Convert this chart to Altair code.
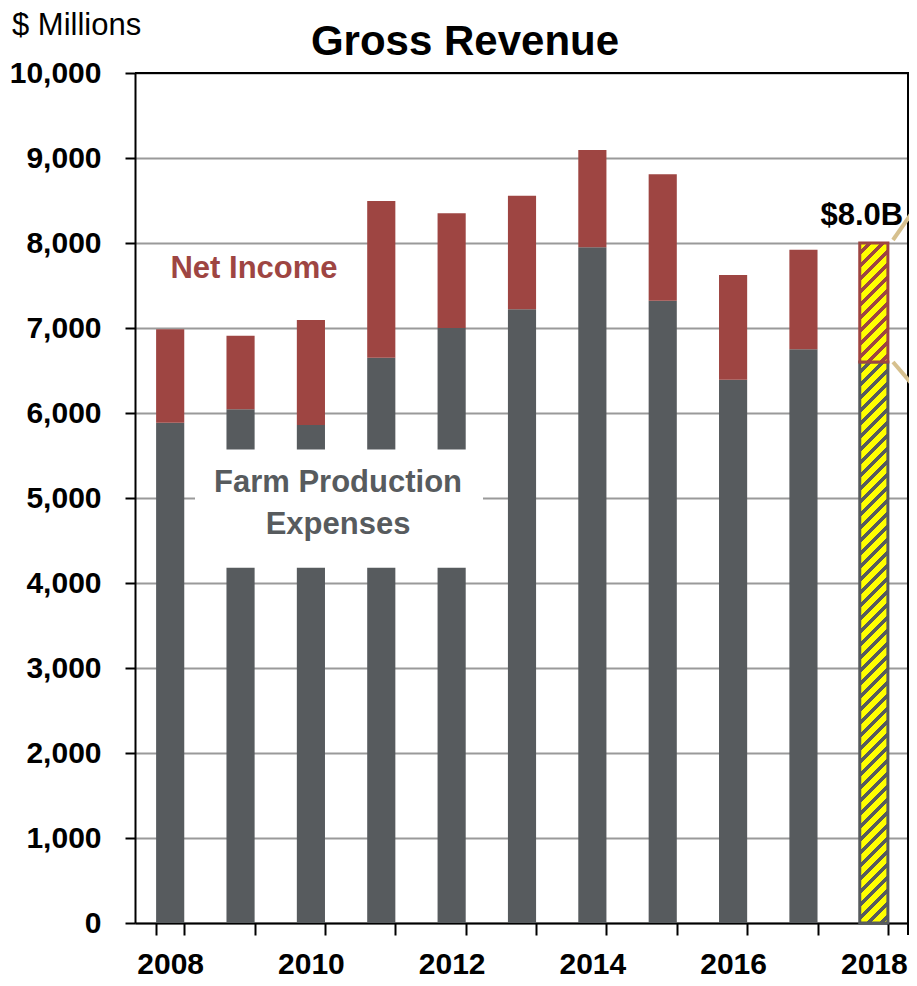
import altair as alt
import pandas as pd

# ---- data ----
years = ["2008", "2009", "2010", "2011", "2012", "2013", "2014", "2015", "2016", "2017", "2018"]
gross_revenue = [6985, 6910, 7095, 8495, 8350, 8555, 9095, 8810, 7625, 7920, 8000]
farm_expenses = [5885, 6045, 5860, 6650, 7000, 7220, 7950, 7320, 6390, 6750, 6600]
forecast_year = "2018"
forecast_label = "$8.0B"
y_ticks = [0, 1000, 2000, 3000, 4000, 5000, 6000, 7000, 8000, 9000, 10000]

RED = "#9E4542"
GRAY = "#575B5E"
YELLOW = "#FFFF00"
TAN = "#D6C08E"
FONT = "Liberation Sans, Arial, sans-serif"

W_PLOT, H_PLOT = 774, 850
PX_PER_UNIT = H_PLOT / 10000.0

df = pd.DataFrame({"year": years, "gross": gross_revenue, "expenses": farm_expenses})
df["zero"] = 0
hist = df[df["year"] != forecast_year]
fc = df[df["year"] == forecast_year]


def stripes(width, height, color, period=13.0, frac=0.6):
    """Diagonal '/' hatch simulated with a hard-stop linear gradient."""
    total = width + height
    c = total / (width ** 2 + height ** 2)
    stops = []
    k = 0
    while k * period < total:
        t0 = k * period / total
        t1 = min(1.0, (k * period + frac * period) / total)
        t2 = min(1.0, (k + 1) * period / total)
        stops += [
            {"offset": t0, "color": YELLOW},
            {"offset": t1, "color": YELLOW},
            {"offset": t1, "color": color},
            {"offset": t2, "color": color},
        ]
        k += 1
    return alt.LinearGradient(gradient="linear", x1=0, y1=0, x2=c * width, y2=c * height, stops=stops)


step = W_PLOT / 11
bar_w = step * 0.4
fc_exp = float(fc["expenses"].iloc[0])
fc_net = float(fc["gross"].iloc[0] - fc["expenses"].iloc[0])

x_enc = alt.X(
    "year:N",
    sort=years,
    scale=alt.Scale(paddingInner=0.6, paddingOuter=0.3),
    axis=alt.Axis(
        title=None,
        tickBand="extent",
        labelExpr="parseInt(datum.label) % 2 == 0 ? datum.label : ''",
        labelAngle=0,
        labelFont=FONT,
        labelFontSize=30,
        labelFontWeight="bold",
        labelColor="black",
        labelPadding=14,
        tickSize=12,
        tickColor="black",
        tickWidth=2,
        domainColor="black",
        domainWidth=2,
        grid=False,
    ),
)
y_scale = alt.Scale(domain=[0, 10000], nice=False)
y_axis = alt.Axis(
    title=None,
    values=y_ticks,
    format=",d",
    labelFont=FONT,
    labelFontSize=30,
    labelFontWeight="bold",
    labelColor="black",
    labelPadding=24,
    tickSize=10,
    tickColor="black",
    tickWidth=2,
    domainColor="black",
    domainWidth=2,
    grid=True,
    gridColor="#9A9A9A",
    gridWidth=2,
)

base = alt.Chart(hist)
exp_bars = base.mark_bar(color=GRAY).encode(
    x=x_enc, y=alt.Y("zero:Q", scale=y_scale, axis=y_axis), y2="expenses:Q"
)
net_bars = base.mark_bar(color=RED).encode(x=alt.X("year:N", sort=years), y="expenses:Q", y2="gross:Q")

fc_exp_bar = alt.Chart(fc).mark_bar(
    fill=stripes(bar_w, fc_exp * PX_PER_UNIT, GRAY), stroke=GRAY, strokeWidth=3
).encode(x=alt.X("year:N", sort=years), y="zero:Q", y2="expenses:Q")
fc_net_bar = alt.Chart(fc).mark_bar(
    fill=stripes(bar_w, fc_net * PX_PER_UNIT, RED), stroke=RED, strokeWidth=3
).encode(x=alt.X("year:N", sort=years), y="expenses:Q", y2="gross:Q")

fc_text = alt.Chart(fc).mark_text(
    text=forecast_label, font=FONT, fontSize=31, fontWeight="bold", color="black", dy=-27, dx=-12
).encode(x=alt.X("year:N", sort=years), y="gross:Q")

# white label box that interrupts the expense bars
box = alt.Chart(pd.DataFrame({"lo": [4180], "hi": [5570]})).mark_rect(color="white").encode(
    x=alt.value(60), x2=alt.value(348), y="lo:Q", y2="hi:Q"
)

ann = pd.DataFrame(
    {
        "text": ["Net Income", "Farm Production", "Expenses"],
        "yv": [7700, 5180, 4680],
        "px": [119, 203, 203],
        "col": [RED, GRAY, GRAY],
    }
)
ann_text = alt.Chart(ann).mark_text(font=FONT, fontSize=31, fontWeight="bold", baseline="middle").encode(
    x=alt.X("px:Q", scale=None), y="yv:Q", text="text:N", color=alt.Color("col:N", scale=None)
)

title_text = alt.Chart(pd.DataFrame({"t": ["Gross Revenue"]})).mark_text(
    font=FONT, fontSize=42, fontWeight="bold", color="black", baseline="middle"
).encode(x=alt.value(330), y=alt.value(-31), text="t:N")

unit_text = alt.Chart(pd.DataFrame({"t": ["$ Millions"]})).mark_text(
    font=FONT, fontSize=31, color="black", align="left", baseline="middle"
).encode(x=alt.value(-123), y=alt.value(-47), text="t:N")

one = pd.DataFrame({"a": [0]})
frame_top = alt.Chart(one).mark_rule(color="black", strokeWidth=2).encode(
    x=alt.value(0), x2=alt.value(W_PLOT), y=alt.value(0)
)
frame_right = alt.Chart(one).mark_rule(color="black", strokeWidth=2).encode(
    x=alt.value(W_PLOT - 1), y=alt.value(0), y2=alt.value(H_PLOT + 12)
)
callout_hi = alt.Chart(one).mark_rule(color=TAN, strokeWidth=4).encode(
    x=alt.value(758), x2=alt.value(776), y=alt.value(167), y2=alt.value(141)
)
callout_lo = alt.Chart(one).mark_rule(color=TAN, strokeWidth=4).encode(
    x=alt.value(758), x2=alt.value(776), y=alt.value(289), y2=alt.value(310)
)

chart = (
    alt.layer(exp_bars, net_bars, fc_exp_bar, fc_net_bar, box, ann_text, fc_text, title_text, unit_text,
              frame_top, frame_right, callout_hi, callout_lo)
    .resolve_scale(color="independent")
    .properties(
        width=W_PLOT,
        height=H_PLOT,
        autosize=alt.AutoSizeParams(type="none"),
        padding={"left": 127, "top": 65, "right": 0, "bottom": 55},
    )
    .configure_view(stroke=None)
    .configure(background="white")
)

chart.save("out.html", embed_options={"renderer": "svg", "actions": False})
